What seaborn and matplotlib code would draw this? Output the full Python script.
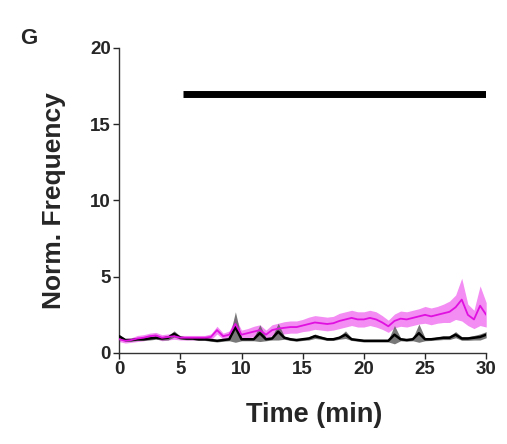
import numpy as np
import pandas as pd
import matplotlib
matplotlib.use("Agg")
import matplotlib.pyplot as plt
import seaborn as sns

time_min = [i * 0.5 for i in range(61)]

magenta_mean = [0.9, 0.8, 0.85, 0.95, 1.0, 1.1, 1.15, 1.0, 1.05, 1.1,
                1.0, 1.0, 1.0, 1.0, 1.0, 1.05, 1.5, 1.1, 1.2, 1.9,
                1.2, 1.3, 1.4, 1.5, 1.2, 1.5, 1.6, 1.65, 1.7, 1.7,
                1.8, 1.9, 2.0, 1.95, 1.9, 1.95, 2.1, 2.2, 2.3, 2.2,
                2.2, 2.3, 2.2, 2.0, 1.75, 2.1, 2.25, 2.2, 2.3, 2.4,
                2.5, 2.4, 2.5, 2.6, 2.7, 3.0, 3.5, 2.5, 2.2, 3.1, 2.5]
magenta_sem = [0.15, 0.15, 0.15, 0.2, 0.2, 0.2, 0.2, 0.2, 0.2, 0.2,
               0.15, 0.15, 0.15, 0.15, 0.15, 0.2, 0.25, 0.2, 0.25, 0.4,
               0.3, 0.3, 0.35, 0.35, 0.3, 0.35, 0.35, 0.4, 0.4, 0.4,
               0.4, 0.45, 0.45, 0.45, 0.45, 0.45, 0.5, 0.5, 0.5, 0.5,
               0.5, 0.5, 0.5, 0.45, 0.4, 0.45, 0.5, 0.5, 0.5, 0.5,
               0.55, 0.55, 0.55, 0.6, 0.7, 0.8, 1.4, 0.7, 0.6, 1.3, 0.8]

black_mean = [1.1, 0.85, 0.85, 0.9, 0.9, 0.95, 1.0, 0.95, 1.0, 1.25,
              1.0, 0.95, 0.95, 0.9, 0.9, 0.85, 0.8, 0.85, 0.9, 1.7,
              0.9, 0.9, 0.9, 1.3, 0.9, 0.95, 1.4, 1.0, 0.9, 0.85,
              0.9, 0.95, 1.1, 1.0, 0.9, 0.9, 1.0, 1.2, 0.9, 0.85,
              0.8, 0.8, 0.8, 0.8, 0.8, 1.2, 0.9, 0.85, 0.9, 1.3,
              0.9, 0.9, 0.95, 1.0, 1.0, 1.2, 0.95, 0.95, 1.0, 1.05, 1.2]
black_sem = [0.1, 0.08, 0.08, 0.08, 0.08, 0.1, 0.1, 0.1, 0.15, 0.2,
             0.1, 0.08, 0.08, 0.08, 0.08, 0.08, 0.08, 0.08, 0.1, 1.0,
             0.1, 0.1, 0.1, 0.55, 0.1, 0.1, 0.55, 0.1, 0.08, 0.08,
             0.08, 0.1, 0.15, 0.1, 0.08, 0.08, 0.1, 0.25, 0.08, 0.08,
             0.08, 0.08, 0.08, 0.08, 0.08, 0.6, 0.1, 0.08, 0.1, 0.6,
             0.1, 0.08, 0.1, 0.12, 0.12, 0.2, 0.12, 0.12, 0.15, 0.2, 0.2]

bar_start, bar_end, bar_y = 5.2, 30, 17

sns.set_style("ticks")
plt.rcParams['font.family'] = ['Liberation Sans', 'DejaVu Sans']
plt.rcParams['font.weight'] = 'bold'

fig = plt.figure(figsize=(5.07, 4.44), dpi=100)
ax = fig.add_axes([0.235, 0.205, 0.724, 0.687])

t = np.array(time_min)
mm, ms = np.array(magenta_mean), np.array(magenta_sem)
bm, bs = np.array(black_mean), np.array(black_sem)

ax.fill_between(t, mm - ms, mm + ms, color='#f070f0', alpha=0.8, lw=0, zorder=1)
ax.fill_between(t, bm - bs, bm + bs, color='#606060', alpha=0.85, lw=0, zorder=2)

df_m = pd.DataFrame({'t': t, 'v': mm})
df_b = pd.DataFrame({'t': t, 'v': bm})
sns.lineplot(data=df_b, x='t', y='v', ax=ax, color='black', lw=1.8, zorder=3)
sns.lineplot(data=df_m, x='t', y='v', ax=ax, color='#e010e0', lw=1.3, zorder=4)

ax.plot([bar_start, bar_end], [bar_y, bar_y], color='black', lw=5, solid_capstyle='butt', zorder=5)

ax.set_xlim(0, 30)
ax.set_ylim(0, 20)
ax.set_xticks([0, 5, 10, 15, 20, 25, 30])
ax.set_yticks([0, 5, 10, 15, 20])
sns.despine(ax=ax)
for s in ['left', 'bottom']:
    ax.spines[s].set_linewidth(1.0)
    ax.spines[s].set_color('#333333')
ax.tick_params(axis='both', length=4, width=1, labelsize=13.5, pad=2)
for lab in ax.get_xticklabels() + ax.get_yticklabels():
    lab.set_fontweight('bold')
ax.set_xlabel('Time (min)', fontsize=19.5, fontweight='bold', labelpad=17)
ax.xaxis.set_label_coords(0.53, -0.16)
ax.set_ylabel('Norm. Frequency', fontsize=19, fontweight='bold', labelpad=17)
fig.text(0.04, 0.9, 'G', fontsize=16, fontweight='bold')

fig.savefig('out.png', dpi=100)
